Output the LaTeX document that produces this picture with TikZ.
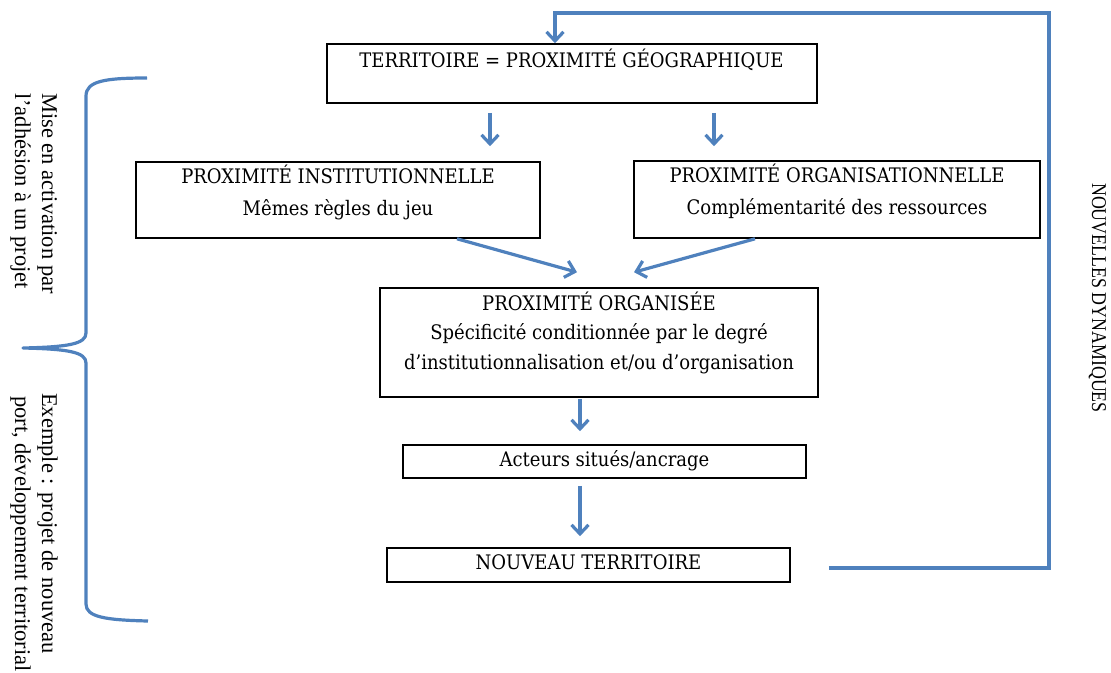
\documentclass[tikz,border=0pt]{standalone}
\usepackage{fontspec}
\usetikzlibrary{arrows.meta,calc}
\newfontfamily\boxfont[FakeStretch=0.9]{DejaVu Serif}
\newfontfamily\sidefont{Liberation Serif}
\newfontfamily\dynfont[FakeStretch=0.85]{Liberation Serif}
\definecolor{arrowblue}{RGB}{79,129,189}
\begin{document}
\begin{tikzpicture}[x=1pt,y=-1pt,
  box/.style={draw=black, line width=1.6pt, inner sep=0pt},
  txt/.style={font=\boxfont\fontsize{20}{24}\selectfont, inner sep=0pt, anchor=base},
  arr/.style={draw=arrowblue, line width=3.2pt, -{Straight Barb[length=9pt,width=17pt]}},
  brace/.style={draw=arrowblue, line width=3.2pt, line join=round},
  side/.style={font=\sidefont\fontsize{22.5}{26}\selectfont, rotate=-90, anchor=base west, inner sep=0pt},
  dyn/.style={font=\dynfont\fontsize{21}{25}\selectfont, rotate=-90, anchor=base west, inner sep=0pt}]
\useasboundingbox (0,0) rectangle (1111,672);
\clip (0,0) rectangle (1111,672);

% boxes
\node[box, minimum width=490pt, minimum height=59pt] (top) at (572,73.5) {};
\node[box, minimum width=404pt, minimum height=76pt] (inst) at (338,200) {};
\node[box, minimum width=406pt, minimum height=77pt] (orga) at (837,199.5) {};
\node[box, minimum width=438pt, minimum height=109pt] (porg) at (599,342.5) {};
\node[box, minimum width=403pt, minimum height=33pt] (act) at (604.5,461.5) {};
\node[box, minimum width=403pt, minimum height=34pt] (nouv) at (588.5,565) {};

% texts
\node[txt] (topT) at (571.5,67.3) {TERRITOIRE = PROXIMITÉ GÉOGRAPHIQUE};
\node[txt] (instA) at (338,183.3) {PROXIMITÉ INSTITUTIONNELLE};
\node[txt] (instB) at (338,215.3) {Mêmes règles du jeu};
\node[txt] (orgaA) at (837,182) {PROXIMITÉ ORGANISATIONNELLE};
\node[txt] (orgaB) at (837,214.5) {Complémentarité des ressources};
\node[txt] (porgA) at (599,310.3) {PROXIMITÉ ORGANISÉE};
\node[txt] (porgB) at (599,339.3) {Spécificité conditionnée par le degré};
\node[txt] (porgC) at (599,369.3) {d’institutionnalisation et/ou d’organisation};
\node[txt] (actT) at (604.5,466.8) {Acteurs situés/ancrage};
\node[txt] (nouvT) at (588.5,569.3) {NOUVEAU TERRITOIRE};

% side texts
\node[side] (s1) at (42,93) {Mise en activation par};
\node[side] (s2) at (15,93) {l’adhésion à un projet};
\node[side] (s3) at (42,393) {Exemple : projet de nouveau};
\node[side] (s4) at (15,396) {port, développement territorial};
\node[dyn] (nd) at (1092,183) {NOUVELLES DYNAMIQUES};

% brace
\draw[brace] (147,78) .. controls (105,78) and (86,81) .. (86,96) -- (86,333)
  .. controls (86,344) and (68,347) .. (23,348)
  .. controls (68,349) and (86,352) .. (86,363) -- (86,604)
  .. controls (86,617) and (105,620) .. (148,621);

% arrows
\draw[arr, shorten <=9pt, shorten >=15pt] ([xshift=-82pt]top.south) -- ([xshift=-82pt]top.south |- inst.north);
\draw[arr, shorten <=9pt, shorten >=14pt] ([xshift=142pt]top.south) -- ([xshift=142pt]top.south |- orga.north);
\draw[arr] ([xshift=119pt]inst.south) -- ([xshift=-22pt,yshift=15pt]porg.north);
\draw[arr] ([xshift=-82pt]orga.south) -- ([xshift=35pt,yshift=15pt]porg.north);
\draw[arr, shorten <=1pt, shorten >=13pt] ([xshift=-19pt]porg.south) -- ([xshift=-19pt]porg.south |- act.north);
\draw[arr, shorten <=7pt, shorten >=11pt] ([xshift=-24.5pt]act.south) -- ([xshift=-24.5pt]act.south |- nouv.north);

% feedback loop
\coordinate (fb) at ([xshift=38pt,yshift=-3pt]nouv.east);
\coordinate (fbtop) at (1049,13);
\draw[arr] (fb) -| (fbtop) -| ([xshift=-17pt]top.north);
\end{tikzpicture}
\end{document}
